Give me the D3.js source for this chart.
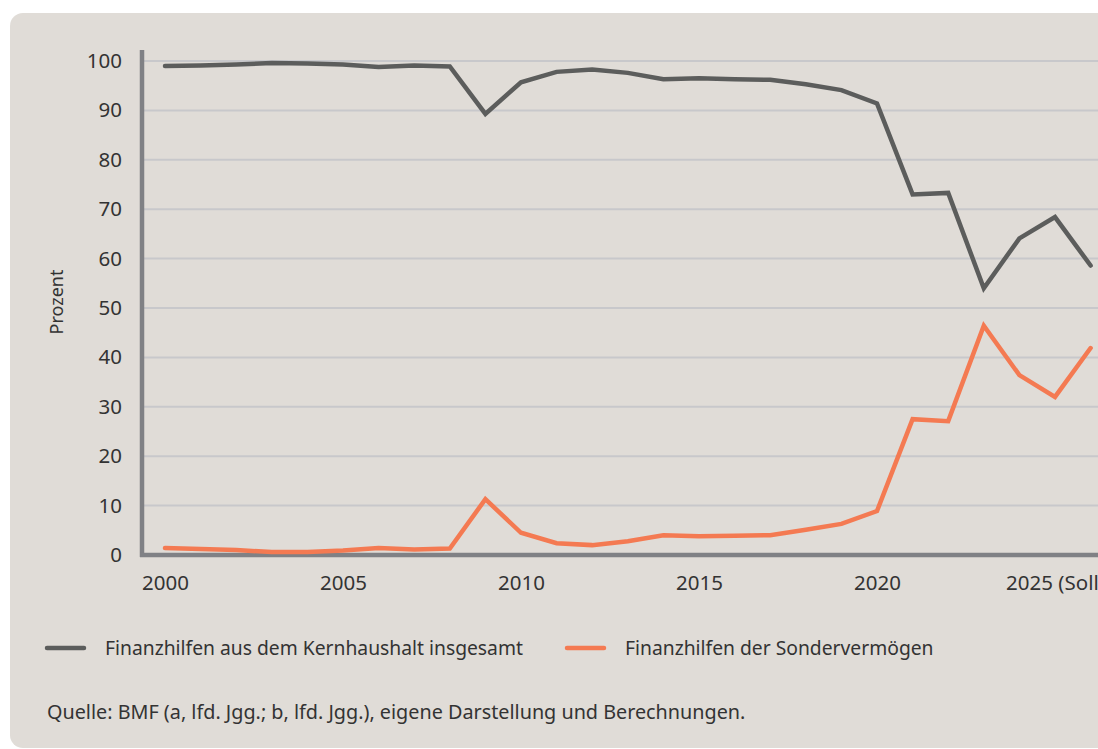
<!DOCTYPE html>
<html>
<head>
<meta charset="utf-8">
<script src="https://cdn.jsdelivr.net/npm/d3@7"></script>
<style>
  body { margin: 0; background: #ffffff; }
  svg text { font-family: "Noto Sans", sans-serif; fill: #333333; }
</style>
</head>
<body>
<div id="chart"></div>
<script>
// data
var years = d3.range(2000, 2027);
var kernhaushalt = [99.0, 99.1, 99.3, 99.6, 99.5, 99.3, 98.8, 99.1, 98.9, 89.3,
  95.7, 97.8, 98.3, 97.6, 96.3, 96.5, 96.3, 96.2, 95.3, 94.1,
  91.4, 73.0, 73.3, 54.0, 64.1, 68.4, 58.6];
var sondervermoegen = [1.4, 1.2, 1.0, 0.6, 0.6, 0.9, 1.4, 1.1, 1.3, 11.3,
  4.5, 2.4, 2.0, 2.8, 4.0, 3.8, 3.9, 4.0, 5.1, 6.3,
  8.9, 27.5, 27.1, 46.4, 36.4, 32.0, 41.9];
var yTicks = [0, 10, 20, 30, 40, 50, 60, 70, 80, 90, 100];
var xTicks = [2000, 2005, 2010, 2015, 2020, 2025];
var seriesNames = ["Finanzhilfen aus dem Kernhaushalt insgesamt", "Finanzhilfen der Sondervermögen"];
var seriesColors = ["#5c5d5c", "#f47a52"];

var W = 1098, H = 749;
var svg = d3.select("#chart").append("svg")
  .attr("width", W).attr("height", H);

// beige panel with rounded corners
svg.append("rect")
  .attr("x", 10).attr("y", 13)
  .attr("width", W + 20).attr("height", H - 14)
  .attr("rx", 13)
  .style("fill", "#e0dcd7");

var x = d3.scaleLinear().domain([2000, 2025]).range([165, 1055]);
var y = d3.scaleLinear().domain([0, 100]).range([555, 61]);

// gridlines
svg.append("g").selectAll("line")
  .data(yTicks.filter(d => d > 0))
  .enter().append("line")
  .attr("x1", 142).attr("x2", W)
  .attr("y1", d => y(d)).attr("y2", d => y(d))
  .style("stroke", "#c8c8cb").style("stroke-width", 2);

// y axis
var gY = svg.append("g").attr("transform", "translate(142,0)")
  .call(d3.axisLeft(y).tickValues(yTicks).tickSize(0).tickPadding(20));
gY.select(".domain").remove();
gY.selectAll("text").style("font-size", "20.5px").style("fill", "#333");

svg.append("line")
  .attr("x1", 142).attr("x2", 142).attr("y1", 50).attr("y2", 557)
  .style("stroke", "#808185").style("stroke-width", 4.5);

// x axis (last label runs past the right edge, as in the original)
var gX = svg.append("g").attr("transform", "translate(0,555)")
  .call(d3.axisBottom(x).tickValues(xTicks).tickSize(0).tickPadding(20)
    .tickFormat(d => d === 2025 ? "2025 (Soll)" : d));
gX.select(".domain").remove();
gX.selectAll("text").style("font-size", "20.5px").style("fill", "#333");

svg.append("line")
  .attr("x1", 140).attr("x2", W).attr("y1", 555).attr("y2", 555)
  .style("stroke", "#808185").style("stroke-width", 4.5);

// axis title
svg.append("text")
  .attr("transform", "translate(63,302) rotate(-90)")
  .attr("text-anchor", "middle")
  .style("font-size", "18px")
  .text("Prozent");

// lines
var line = d3.line()
  .x((d, i) => x(years[i]))
  .y(d => y(d));

[kernhaushalt, sondervermoegen].forEach(function(vals, k) {
  svg.append("path")
    .datum(vals)
    .attr("d", line)
    .style("fill", "none")
    .style("stroke", seriesColors[k])
    .style("stroke-width", 4.5)
    .style("stroke-linejoin", "miter")
    .style("stroke-linecap", "round");
});

// legend
var legendX = [45, 565];
seriesNames.forEach(function(name, k) {
  svg.append("line")
    .attr("x1", legendX[k] + 2).attr("x2", legendX[k] + 39)
    .attr("y1", 648).attr("y2", 648)
    .style("stroke", seriesColors[k]).style("stroke-width", 4.5)
    .style("stroke-linecap", "round");
  svg.append("text")
    .attr("x", legendX[k] + 60).attr("y", 655)
    .style("font-size", "19.3px")
    .text(name);
});

// source
svg.append("text")
  .attr("x", 47).attr("y", 719)
  .style("font-size", "19.8px")
  .text("Quelle: BMF (a, lfd. Jgg.; b, lfd. Jgg.), eigene Darstellung und Berechnungen.");
</script>
</body>
</html>
